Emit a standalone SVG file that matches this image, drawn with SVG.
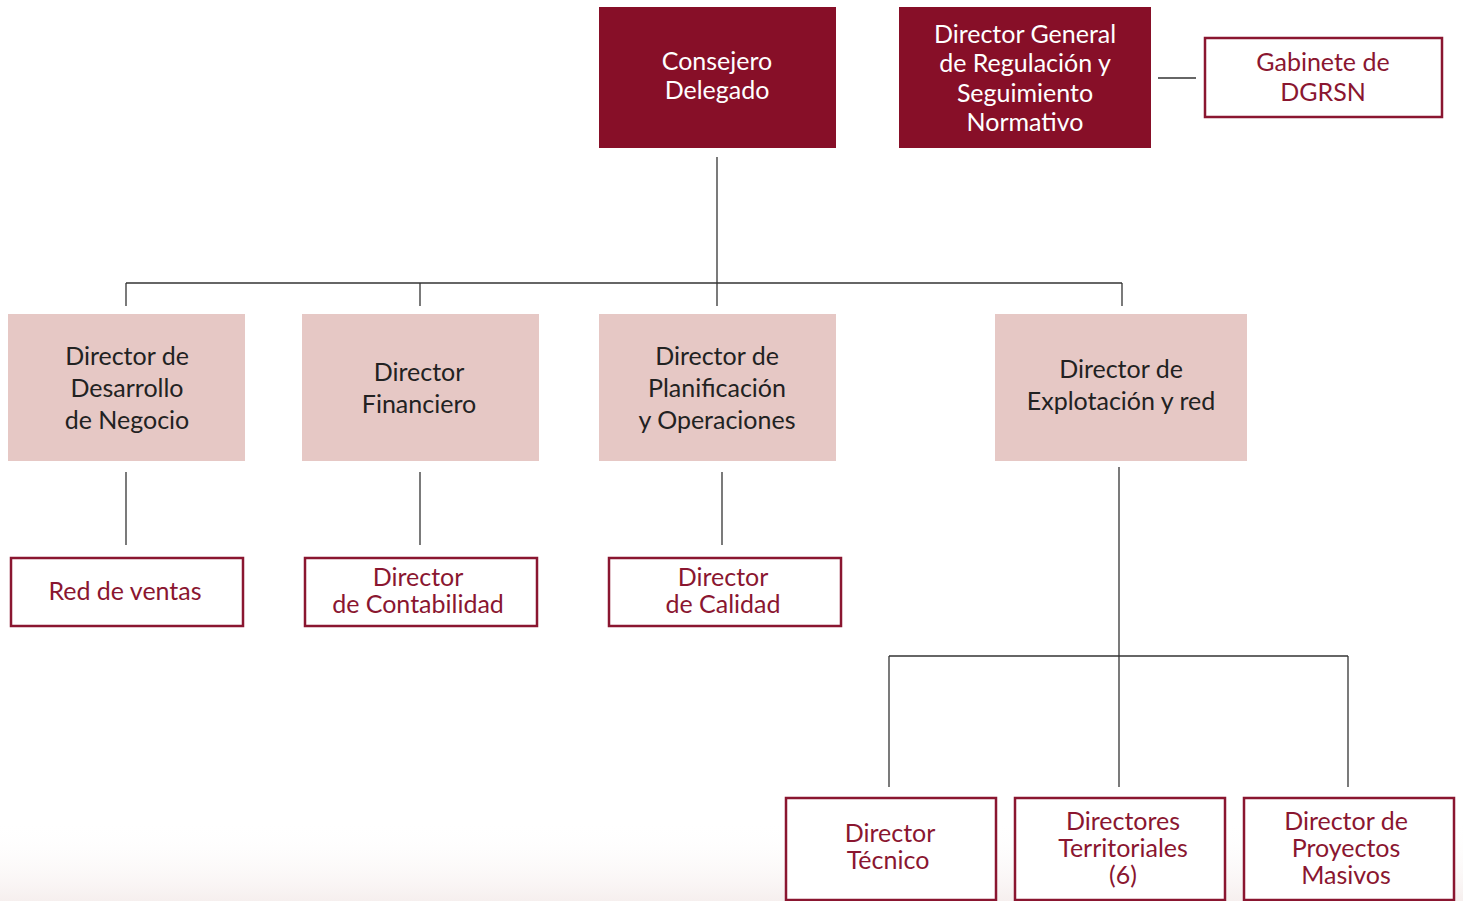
<svg xmlns="http://www.w3.org/2000/svg" width="1463" height="901" viewBox="0 0 1463 901">
<style>
text{font-family:Lato,"Liberation Sans",sans-serif;font-size:25px;text-anchor:middle}
.dark{fill:#870F28}
.dark-t{fill:#ffffff}
.pink{fill:#E6C8C5}
.pink-t{fill:#222222}
.out{fill:#ffffff;stroke:#8A1630;stroke-width:2.5}
.out-t{fill:#8A1630}
.conn line{stroke:#333333;stroke-width:1.3}
</style>
<defs>
<linearGradient id="bg" x1="0" y1="0" x2="0" y2="1">
<stop offset="0" stop-color="#ffffff" stop-opacity="0"/>
<stop offset="1" stop-color="#f6efee"/>
</linearGradient>
</defs>
<rect width="1463" height="901" fill="#ffffff"/>
<rect x="0" y="820" width="1463" height="81" fill="url(#bg)"/>
<g class="conn">
<line x1="717" y1="157" x2="717" y2="306"/>
<line x1="126" y1="283" x2="1122" y2="283"/>
<line x1="126" y1="283" x2="126" y2="306"/>
<line x1="420" y1="283" x2="420" y2="306"/>
<line x1="1122" y1="283" x2="1122" y2="306"/>
<line x1="1158" y1="78" x2="1196" y2="78"/>
<line x1="126" y1="472" x2="126" y2="545"/>
<line x1="420" y1="472" x2="420" y2="545"/>
<line x1="722" y1="472" x2="722" y2="545"/>
<line x1="1119" y1="467" x2="1119" y2="787"/>
<line x1="889" y1="656" x2="1348" y2="656"/>
<line x1="889" y1="656" x2="889" y2="787"/>
<line x1="1348" y1="656" x2="1348" y2="787"/>
</g>
<g id="consejero">
<rect class="dark" x="599" y="7" width="237" height="141"/>
<text class="dark-t" x="717" y="70">Consejero</text>
<text class="dark-t" x="717" y="99">Delegado</text>
</g>
<g id="dgrsn">
<rect class="dark" x="899" y="7" width="252" height="141"/>
<text class="dark-t" x="1025" y="43">Director General</text>
<text class="dark-t" x="1025" y="72">de Regulación y</text>
<text class="dark-t" x="1025" y="102">Seguimiento</text>
<text class="dark-t" x="1025" y="131">Normativo</text>
</g>
<g id="gabinete">
<rect class="out" x="1205" y="38" width="237" height="79"/>
<text class="out-t" x="1323" y="71">Gabinete de</text>
<text class="out-t" x="1323" y="101">DGRSN</text>
</g>
<g id="desarrollo">
<rect class="pink" x="8" y="314" width="237" height="147"/>
<text class="pink-t" x="127" y="365">Director de</text>
<text class="pink-t" x="127" y="397">Desarrollo</text>
<text class="pink-t" x="127" y="429">de Negocio</text>
</g>
<g id="financiero">
<rect class="pink" x="302" y="314" width="237" height="147"/>
<text class="pink-t" x="419" y="381">Director</text>
<text class="pink-t" x="419" y="413">Financiero</text>
</g>
<g id="planificacion">
<rect class="pink" x="599" y="314" width="237" height="147"/>
<text class="pink-t" x="717" y="365">Director de</text>
<text class="pink-t" x="717" y="397">Planificación</text>
<text class="pink-t" x="717" y="429">y Operaciones</text>
</g>
<g id="explotacion">
<rect class="pink" x="995" y="314" width="252" height="147"/>
<text class="pink-t" x="1121" y="378">Director de</text>
<text class="pink-t" x="1121" y="410">Explotación y red</text>
</g>
<g id="ventas">
<rect class="out" x="11" y="558" width="232" height="68"/>
<text class="out-t" x="125" y="600">Red de ventas</text>
</g>
<g id="contabilidad">
<rect class="out" x="305" y="558" width="232" height="68"/>
<text class="out-t" x="418" y="586">Director</text>
<text class="out-t" x="418" y="613">de Contabilidad</text>
</g>
<g id="calidad">
<rect class="out" x="609" y="558" width="232" height="68"/>
<text class="out-t" x="723" y="586">Director</text>
<text class="out-t" x="723" y="613">de Calidad</text>
</g>
<g id="tecnico">
<rect class="out" x="786" y="798" width="210" height="102"/>
<text class="out-t" x="890" y="842">Director</text>
<text class="out-t" x="888" y="869">Técnico</text>
</g>
<g id="territoriales">
<rect class="out" x="1015" y="798" width="210" height="102"/>
<text class="out-t" x="1123" y="830">Directores</text>
<text class="out-t" x="1123" y="857">Territoriales</text>
<text class="out-t" x="1123" y="884">(6)</text>
</g>
<g id="masivos">
<rect class="out" x="1244" y="798" width="210" height="102"/>
<text class="out-t" x="1346" y="830">Director de</text>
<text class="out-t" x="1346" y="857">Proyectos</text>
<text class="out-t" x="1346" y="884">Masivos</text>
</g>
</svg>
